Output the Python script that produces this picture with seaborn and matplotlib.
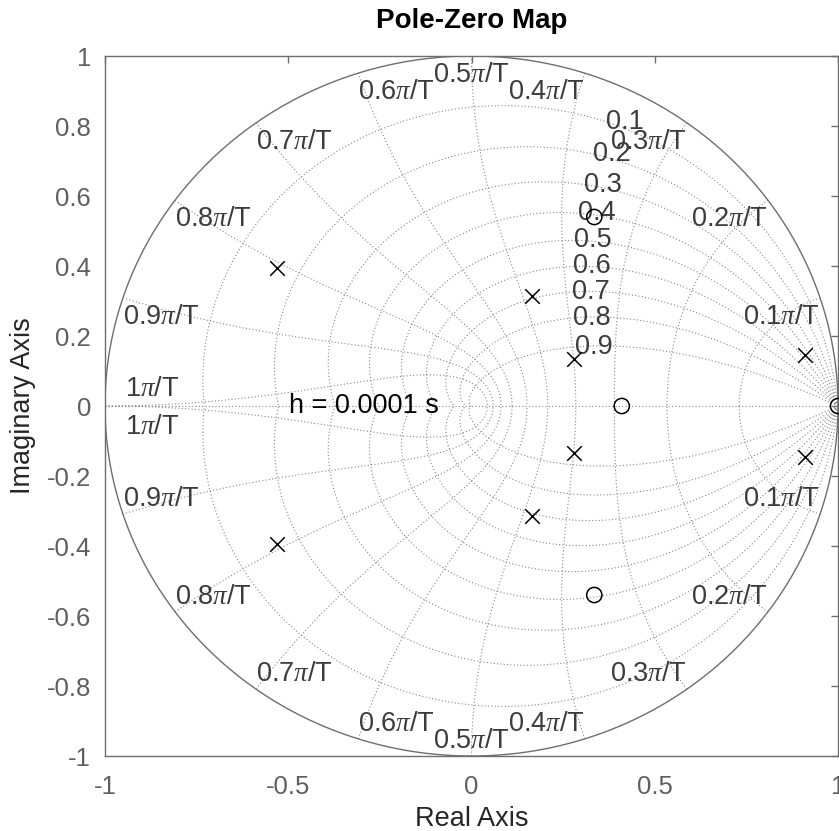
import numpy as np
import pandas as pd
import matplotlib
matplotlib.use("Agg")
import matplotlib.pyplot as plt
import seaborn as sns

# Poles (x) and zeros (o)
pole_re = [-0.53, -0.53, 0.165, 0.165, 0.28, 0.28, 0.91, 0.91]
pole_im = [0.395, -0.395, 0.315, -0.315, 0.135, -0.135, 0.145, -0.145]
zero_re = [0.335, 0.335, 0.41, 1.0]
zero_im = [0.54, -0.54, 0.0, 0.0]

# zgrid: damping ratios and natural frequencies (multiples of pi/T)
zeta_vals = [0.1, 0.2, 0.3, 0.4, 0.5, 0.6, 0.7, 0.8, 0.9]
wn_vals = [0.1, 0.2, 0.3, 0.4, 0.5, 0.6, 0.7, 0.8, 0.9, 1.0]
zeta_labels = ["0.1", "0.2", "0.3", "0.4", "0.5", "0.6", "0.7", "0.8", "0.9"]
wn_labels = ["0.1$\\pi$/T", "0.2$\\pi$/T", "0.3$\\pi$/T", "0.4$\\pi$/T", "0.5$\\pi$/T",
             "0.6$\\pi$/T", "0.7$\\pi$/T", "0.8$\\pi$/T", "0.9$\\pi$/T", "1$\\pi$/T"]
sample_label = "h = 0.0001 s"

x_ticks = [-1, -0.5, 0, 0.5, 1]
x_ticklabels = ["-1", "-0.5", "0", "0.5", "1"]
y_ticks = [-1, -0.8, -0.6, -0.4, -0.2, 0, 0.2, 0.4, 0.6, 0.8, 1]
y_ticklabels = ["-1", "-0.8", "-0.6", "-0.4", "-0.2", "0", "0.2", "0.4", "0.6", "0.8", "1"]

sns.set_theme(style="white")
plt.rcParams["font.family"] = ["Liberation Sans", "DejaVu Sans"]
plt.rcParams["mathtext.fontset"] = "custom"
plt.rcParams["mathtext.rm"] = "Liberation Sans"
plt.rcParams["mathtext.it"] = "Liberation Serif:italic"

GRID = "#878787"
LABEL = "#3c3c3c"
AXIS = "#6e6e6e"

fig = plt.figure(figsize=(8.39, 8.31), dpi=100)
ax = fig.add_axes([105 / 839, 75 / 831, 733 / 839, 700 / 831])

dotted = dict(color=GRID, lw=0.8, linestyle=(0, (1, 2)), zorder=1)

# constant damping curves
for z in zeta_vals:
    w = np.linspace(0, np.pi / np.sqrt(1 - z ** 2), 400)
    p = np.exp(w * (-z + 1j * np.sqrt(1 - z ** 2)))
    ax.plot(p.real, p.imag, **dotted)
    ax.plot(p.real, -p.imag, **dotted)

# constant natural frequency curves
for wn in wn_vals:
    zz = np.linspace(0, 1, 300)
    p = np.exp(wn * np.pi * (-zz + 1j * np.sqrt(1 - zz ** 2)))
    ax.plot(p.real, p.imag, **dotted)
    ax.plot(p.real, -p.imag, **dotted)

ax.plot([-1, 1], [0, 0], **dotted)

# unit circle
th = np.linspace(0, 2 * np.pi, 600)
ax.plot(np.cos(th), np.sin(th), color=AXIS, lw=1.0, zorder=2)

# damping labels
for z, lab in zip(zeta_vals, zeta_labels):
    w = 1.14 + 0.11 * z
    p = np.exp(w * (-z + 1j * np.sqrt(1 - z ** 2)))
    ax.text(p.real, p.imag, lab, ha="left", va="center", fontsize=19.5, color=LABEL, zorder=3)

# frequency labels
for wn, lab in zip(wn_vals, wn_labels):
    x, y = np.cos(wn * np.pi), np.sin(wn * np.pi)
    if x > 0.01:
        ha = "right"
    elif x < -0.01:
        ha = "left"
    else:
        ha = "center"
    if wn == 1.0:
        ax.annotate(lab, (-1, 0), xytext=(20, 4), textcoords="offset pixels",
                    ha="left", va="bottom", fontsize=19.5, color=LABEL)
        ax.annotate(lab, (-1, 0), xytext=(20, -8), textcoords="offset pixels",
                    ha="left", va="top", fontsize=19.5, color=LABEL)
        continue
    ax.annotate(lab, (x, y), xytext=(0, -6), textcoords="offset pixels",
                ha=ha, va="top", fontsize=19.5, color=LABEL)
    ax.annotate(lab, (x, -y), xytext=(0, 2), textcoords="offset pixels",
                ha=ha, va="bottom", fontsize=19.5, color=LABEL)

ax.text(-0.497, 0, sample_label, ha="left", va="center", fontsize=19.5, color="black", zorder=3)

poles = pd.DataFrame({"re": pole_re, "im": pole_im})
zeros = pd.DataFrame({"re": zero_re, "im": zero_im})
sns.scatterplot(data=poles, x="re", y="im", marker="x", s=110, color="black",
                linewidth=1.1, ax=ax, zorder=4)
sns.scatterplot(data=zeros, x="re", y="im", marker="o", s=120, facecolor="none",
                edgecolor="black", linewidth=1.1, ax=ax, zorder=4, clip_on=False)

ax.set_xlim(-1, 1)
ax.set_ylim(-1, 1)
ax.set_xticks(x_ticks)
ax.set_xticklabels(x_ticklabels)
ax.set_yticks(y_ticks)
ax.set_yticklabels(y_ticklabels)
ax.tick_params(direction="in", length=5, width=1, colors=AXIS, labelcolor="#5f5f5f",
               labelsize=18.5, top=True, right=True, pad=10)
ax.tick_params(axis="x", pad=14)
for sp in ax.spines.values():
    sp.set_color(AXIS)
    sp.set_linewidth(1)

ax.set_xlabel("Real Axis", fontsize=19.5, color="#262626", labelpad=5)
ax.set_ylabel("Imaginary Axis", fontsize=19.5, color="#262626", labelpad=8)
ax.set_title("Pole-Zero Map", fontsize=20, fontweight="bold", color="black", pad=20)

fig.savefig("out.png", dpi=100)
